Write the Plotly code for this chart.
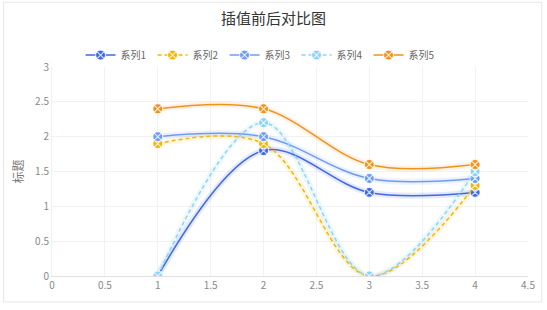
import plotly.graph_objects as go

x_vals = [1, 2, 3, 4]
names = ["系列1", "系列2", "系列3", "系列4", "系列5"]
s1 = [0, 1.8, 1.2, 1.2]
s2 = [1.9, 1.9, 0, 1.3]
s3 = [2.0, 2.0, 1.4, 1.4]
s4 = [0, 2.2, 0, 1.5]
s5 = [2.4, 2.4, 1.6, 1.6]
series = [s1, s2, s3, s4, s5]
colors = ["#4169e1", "#f2b705", "#6f9cf0", "#8fd3f5", "#f0921e"]
glows = ["rgba(65,105,225,0.14)", "rgba(242,183,5,0.12)", "rgba(111,156,240,0.14)",
         "rgba(143,211,245,0.16)", "rgba(240,146,30,0.12)"]
dashes = ["solid", "4px,3px", "solid", "4px,3px", "solid"]
x_ticks = [0, 0.5, 1, 1.5, 2, 2.5, 3, 3.5, 4, 4.5]
y_ticks = [0, 0.5, 1, 1.5, 2, 2.5, 3]

fig = go.Figure()
# soft glow underneath
for ys, c, g in zip(series, colors, glows):
    fig.add_trace(go.Scatter(
        x=x_vals, y=ys, mode="lines", showlegend=False, hoverinfo="skip",
        line=dict(color=g, width=6, shape="spline", smoothing=1.0),
    ))
for nm, ys, c, d in zip(names, series, colors, dashes):
    fig.add_trace(go.Scatter(
        x=x_vals, y=ys, name=nm, mode="lines+markers",
        line=dict(color=c, width=1.5, dash=d, shape="spline", smoothing=1.0),
        marker=dict(symbol="circle-x", size=10, color=c,
                    line=dict(color="rgba(255,255,255,0.8)", width=1.1)),
    ))

fig.add_shape(type="rect", xref="paper", yref="paper",
              x0=-0.102, x1=1.029, y0=-0.124, y1=1.31,
              line=dict(color="#e6e6e6", width=1), fillcolor="rgba(0,0,0,0)", layer="below")

fig.update_layout(
    width=547, height=310,
    margin=dict(l=52, r=15, t=67, b=34),
    paper_bgcolor="white", plot_bgcolor="white",
    font=dict(family="Noto Sans CJK SC, Noto Sans, sans-serif", color="#666", size=11),
    title=dict(text="插值前后对比图", x=0.5, xanchor="center", y=0.94, yanchor="middle",
               font=dict(size=15, color="#333")),
    legend=dict(orientation="h", x=0.06, xanchor="left", y=1.057, yanchor="middle",
                font=dict(size=10, color="#666"), itemwidth=30, tracegroupgap=0,
                entrywidth=27, entrywidthmode="pixels",
                bgcolor="rgba(0,0,0,0)"),
    xaxis=dict(range=[0, 4.5], tickvals=x_ticks, ticktext=[str(t) for t in x_ticks],
               showgrid=True, gridcolor="#f2f2f2", zeroline=False,
               showline=True, linecolor="#e0e0e0", ticks="",
               tickfont=dict(size=10, color="#888")),
    yaxis=dict(range=[0, 3], tickvals=y_ticks, ticktext=[str(t) for t in y_ticks],
               showgrid=True, gridcolor="#f2f2f2", zeroline=False,
               showline=True, linecolor="#f0f0f0", ticks="",
               tickfont=dict(size=10, color="#888"),
               title=dict(text="标题", font=dict(size=12, color="#777"), standoff=8)),
)

fig.write_html("out.html")
